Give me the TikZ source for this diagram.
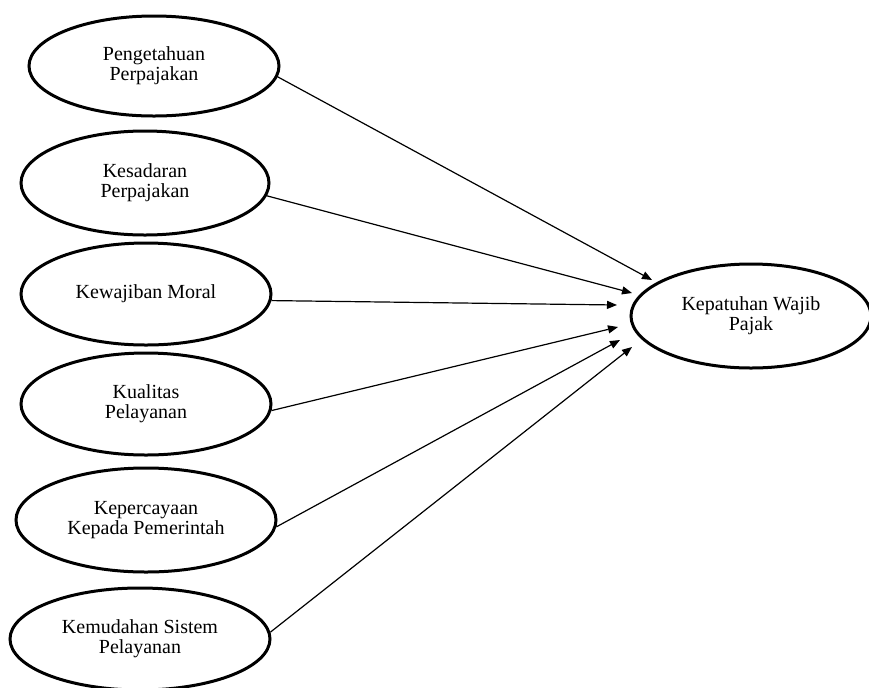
\documentclass[tikz,border=0pt]{standalone}
\usepackage{fontspec}
\setmainfont{Liberation Serif}
\usetikzlibrary{arrows.meta,shapes.geometric}

\begin{document}
\begin{tikzpicture}[x=0.5pt,y=-0.5pt,font=\fontsize{10}{10}\selectfont,
   var/.style={ellipse,draw,line width=1.5pt,inner sep=0pt,align=center},
   link/.style={-{Triangle[length=5pt,width=4pt]},line width=0.6pt}]
  \useasboundingbox (0,0) rectangle (869,687);
  % independent variables
  \node[var,minimum width=125pt,minimum height=50pt] (p1) at (154,66)
    {Pengetahuan\\Perpajakan};
  \node[var,minimum width=124pt,minimum height=52pt] (p2) at (145,183)
    {Kesadaran\\Perpajakan};
  \node[var,minimum width=125pt,minimum height=51pt] (p3) at (146,294)
    {Kewajiban Moral};
  \node[var,minimum width=125pt,minimum height=51pt] (p4) at (146,404)
    {Kualitas\\Pelayanan};
  \node[var,minimum width=130pt,minimum height=52pt] (p5) at (146,520)
    {Kepercayaan\\Kepada Pemerintah};
  \node[var,minimum width=130pt,minimum height=51pt] (p6) at (140,639)
    {Kemudahan Sistem\\Pelayanan};
  % dependent variable
  \node[var,minimum width=120pt,minimum height=52pt] (t) at (751,316)
    {Kepatuhan Wajib\\Pajak};
  % arrow tips
  \coordinate (h1) at (652,280);
  \coordinate (h2) at (632,293);
  \coordinate (h3) at (617,305);
  \coordinate (h4) at (618,327);
  \coordinate (h5) at (620,340);
  \coordinate (h6) at (632,347);
  \draw[link] (p1.-5) -- (h1);
  \draw[link] (p2.-6) -- (h2);
  \draw[link] (p3.-3) -- (h3);
  \draw[link] (p4.-3) -- (h4);
  \draw[link] (p5.-3) -- (h5);
  \draw[link] (p6.3) -- (h6);
\end{tikzpicture}
\end{document}
